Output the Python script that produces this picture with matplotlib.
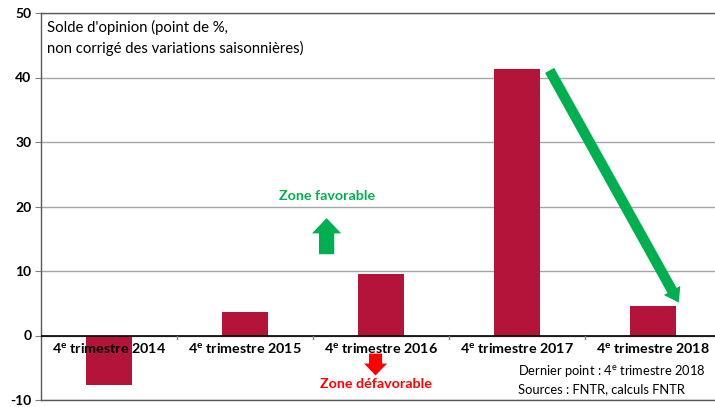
import matplotlib.pyplot as plt
import numpy as np

plt.rcParams['font.family'] = ['Lato', 'DejaVu Sans']
plt.rcParams['mathtext.fontset'] = 'custom'
plt.rcParams['mathtext.rm'] = 'Lato'
plt.rcParams['mathtext.bf'] = 'Lato:bold'

# Données (solde d'opinion, point de %)
annees = ["2014", "2015", "2016", "2017", "2018"]
soldes = [-7.6, 3.6, 9.6, 41.3, 4.5]
trimestres = ["4$^{\\mathbf{e}}$ trimestre " + a for a in annees]

rouge_barre = '#B5143A'
vert = '#00B050'
rouge = '#FF0000'

fig = plt.figure(figsize=(7.15, 4.07), dpi=100)
ax = fig.add_axes([41 / 715, 7 / 407, 680 / 715, 387 / 407])

x = np.arange(len(soldes))
ax.bar(x, soldes, width=0.34, color=rouge_barre, zorder=3)

ax.set_xlim(-0.5, len(soldes) - 0.5)
ax.set_ylim(-10, 50)
ax.set_yticks(range(-10, 51, 10))
ax.set_yticklabels([str(v) for v in range(-10, 51, 10)], fontweight='bold', fontsize=10)
ax.tick_params(axis='y', length=4, color='#808080', pad=3)

# Grille
ax.grid(axis='y', color='#A6A6A6', linewidth=1, zorder=0)
ax.axhline(0, color='black', linewidth=1.2, zorder=4)

# Axe des catégories sur la ligne zéro
ax.set_xticks([])
for i, lab in enumerate(trimestres):
    ax.text(i, -0.9, lab, ha='center', va='top', fontsize=10.3, fontweight='bold', zorder=5)
for b in np.arange(0.5, len(soldes) - 0.5, 1):
    ax.plot([b, b], [0, -0.6], color='#808080', linewidth=1, zorder=4)

for sp in ax.spines.values():
    sp.set_color('#595959')
    sp.set_linewidth(1)

# Textes
ax.text(0.009, 0.982, "Solde d'opinion (point de %,\nnon corrigé des variations saisonnières)",
        transform=ax.transAxes, ha='left', va='top', fontsize=10.7, linespacing=1.45)
ax.text(3.01, -6.75, "Dernier point : 4$^{\\mathrm{e}}$ trimestre 2018\nSources : FNTR, calculs FNTR",
        ha='left', va='center', fontsize=9.3, linespacing=1.5)

ax.text(1.6, 21.7, "Zone favorable", color=vert, ha='center', va='center',
        fontsize=10.3, fontweight='bold')
ax.text(1.96, -7.45, "Zone défavorable", color=rouge, ha='center', va='center',
        fontsize=10.3, fontweight='bold')

# Flèches
ax.annotate('', xy=(1.6, 18.2), xytext=(1.6, 12.6),
            arrowprops=dict(arrowstyle='simple,head_width=2.1,head_length=1.1,tail_width=1.1',
                            color=vert, lw=0, shrinkA=0, shrinkB=0, mutation_scale=10))
ax.annotate('', xy=(1.96, -6.2), xytext=(1.96, -2.8),
            arrowprops=dict(arrowstyle='simple,head_width=1.65,head_length=0.86,tail_width=0.94',
                            color=rouge, lw=0, shrinkA=0, shrinkB=0, mutation_scale=10))
ax.annotate('', xy=(4.19, 5.1), xytext=(3.24, 41.1),
            arrowprops=dict(arrowstyle='simple,head_width=1.35,head_length=1.0,tail_width=0.75',
                            color=vert, lw=0, shrinkA=0, shrinkB=0, mutation_scale=10))

fig.savefig('out.png', dpi=100)
